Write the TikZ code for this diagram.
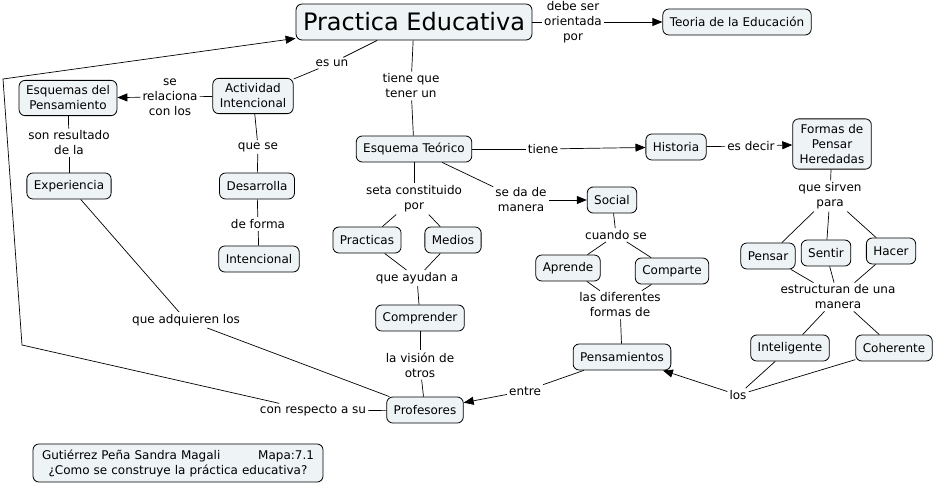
\documentclass[tikz,border=0pt]{standalone}
\usepackage{fontspec}
\setmainfont{DejaVu Sans}
\usetikzlibrary{arrows.meta}
\definecolor{boxfill}{RGB}{238,243,246}
\begin{document}
\begin{tikzpicture}[x=1pt,y=-1pt,
  concept/.style={draw=black, fill=boxfill, rounded corners=6pt, align=center,
    font=\fontsize{12}{15}\selectfont, inner xsep=7pt, inner ysep=5.5pt,
    minimum height=26pt, line width=0.8pt},
  lbl/.style={align=center, font=\fontsize{12}{15}\selectfont, inner sep=2pt},
  conn/.style={line width=0.7pt},
  arr/.style={conn, -{Triangle[length=10pt,width=8pt]}}]
\useasboundingbox (0,0) rectangle (936,488);

% concepts
\node[concept, font=\fontsize{24}{28}\selectfont, minimum height=36pt, inner xsep=7pt, inner ysep=2pt] (pe) at (414,22) {Practica Educativa};
\node[concept] (teo) at (737,22) {Teoria de la Educación};
\node[concept] (act) at (253,96) {Actividad\\Intencional};
\node[concept] (esqp) at (68,98) {Esquemas del\\Pensamiento};
\node[concept] (exp) at (69,186) {Experiencia};
\node[concept] (des) at (257,186) {Desarrolla};
\node[concept] (inten) at (259,259) {Intencional};
\node[concept] (et) at (414,149) {Esquema Teórico};
\node[concept] (prac) at (367,240) {Practicas};
\node[concept] (med) at (453,240) {Medios};
\node[concept] (comp) at (420,318) {Comprender};
\node[concept] (prof) at (425,410) {Profesores};
\node[concept] (soc) at (612,200) {Social};
\node[concept] (apr) at (568,268) {Aprende};
\node[concept] (cmp) at (672,271) {Comparte};
\node[concept] (pens) at (622,357) {Pensamientos};
\node[concept] (hist) at (676,147) {Historia};
\node[concept] (formas) at (832,144) {Formas de\\Pensar\\Heredadas};
\node[concept] (pensar) at (768,256) {Pensar};
\node[concept] (sentir) at (826,253) {Sentir};
\node[concept] (hacer) at (891,251) {Hacer};
\node[concept] (intel) at (790,348) {Inteligente};
\node[concept] (coh) at (894,348) {Coherente};
\node[concept, text width=272pt, inner xsep=9pt] (foot) at (178,463)
  {Gutiérrez Peña Sandra Magali\hfill Mapa:7.1\\¿Como se construye la práctica educativa?};

% linking labels
\node[lbl] (l1) at (573,22) {debe ser\\orientada\\por};
\node[lbl] (l2) at (332,63) {es un};
\node[lbl] (l3) at (411,86) {tiene que\\tener un};
\node[lbl] (l4) at (170,97) {se\\relaciona\\con los};
\node[lbl] (l5) at (69,143) {son resultado\\de la};
\node[lbl] (l6) at (258,147) {que se};
\node[lbl] (l7) at (258,224) {de forma};
\node[lbl] (l8) at (414,199) {seta constituido\\por};
\node[lbl] (l9) at (417,278) {que ayudan a};
\node[lbl] (l10) at (420,365) {la visión de\\otros};
\node[lbl] (l11) at (313,411) {con respecto a su};
\node[lbl] (l12) at (186,320) {que adquieren los};
\node[lbl] (l13) at (521,200) {se da de\\manera};
\node[lbl] (l14) at (616,235) {cuando se};
\node[lbl] (l15) at (620,305) {las diferentes\\formas de};
\node[lbl] (l16) at (525,391) {entre};
\node[lbl] (l17) at (738,395) {los};
\node[lbl] (l18) at (543,149) {tiene};
\node[lbl] (l19) at (751,146) {es decir};
\node[lbl] (l20) at (830,196) {que sirven\\para};
\node[lbl] (l21) at (838,297) {estructuran de una\\manera};

\coordinate (c1) at (22,345);
\coordinate (c2) at (3,79);

% connectors
\draw[conn] (pe) -- (l1);
\draw[arr] (l1) -- (teo);
\draw[conn] (pe) -- (l2);
\draw[conn] (l2) -- (act);
\draw[conn] (pe) -- (l3);
\draw[conn] (l3) -- (et);
\draw[conn] (act) -- (l4);
\draw[arr] (l4) -- (esqp);
\draw[conn] (esqp) -- (l5);
\draw[conn] (l5) -- (exp);
\draw[conn] (act) -- (l6);
\draw[conn] (l6) -- (des);
\draw[conn] (des) -- (l7);
\draw[conn] (l7) -- (inten);
\draw[conn] (exp) -- (l12);
\draw[conn] (l12) -- (prof);
\draw[conn] (prof) -- (l11);
\draw[arr] (l11) -- (c1) -- (c2) -- (pe);
\draw[conn] (et) -- (l8);
\draw[conn] (l8) -- (prac);
\draw[conn] (l8) -- (med);
\draw[conn] (prac) -- (l9);
\draw[conn] (med) -- (l9);
\draw[conn] (l9) -- (comp);
\draw[conn] (comp) -- (l10);
\draw[conn] (l10) -- (prof);
\draw[conn] (et) -- (l13);
\draw[arr] (l13) -- (soc);
\draw[conn] (soc) -- (l14);
\draw[conn] (l14) -- (apr);
\draw[conn] (l14) -- (cmp);
\draw[conn] (apr) -- (l15);
\draw[conn] (cmp) -- (l15);
\draw[conn] (l15) -- (pens);
\draw[conn] (pens) -- (l16);
\draw[arr] (l16) -- (prof);
\draw[conn] (et) -- (l18);
\draw[arr] (l18) -- (hist);
\draw[conn] (hist) -- (l19);
\draw[arr] (l19) -- (formas);
\draw[conn] (formas) -- (l20);
\draw[conn] (l20) -- (pensar);
\draw[conn] (l20) -- (sentir);
\draw[conn] (l20) -- (hacer);
\draw[conn] (pensar) -- (l21);
\draw[conn] (sentir) -- (l21);
\draw[conn] (hacer) -- (l21);
\draw[conn] (l21) -- (intel);
\draw[conn] (l21) -- (coh);
\draw[conn] (intel) -- (l17);
\draw[conn] (coh) -- (l17);
\draw[arr] (l17) -- (pens);
\end{tikzpicture}
\end{document}
